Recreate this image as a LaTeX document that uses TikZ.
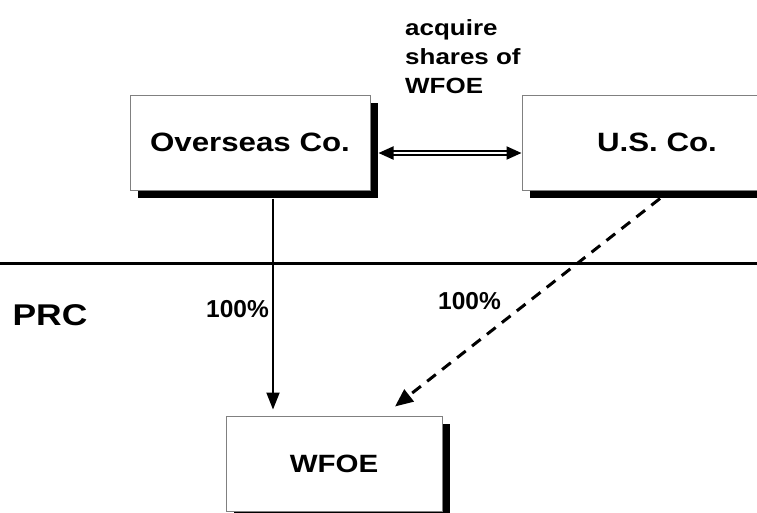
\documentclass[tikz,border=0pt]{standalone}
\usepackage{fontspec}
\setmainfont{Liberation Sans}
\newfontfamily\widefont{Liberation Sans}[FakeStretch=1.18]
\usetikzlibrary{arrows.meta,shadows,calc}
\begin{document}
\begin{tikzpicture}[x=1pt,y=-1pt,
  box/.style={draw=black!50, line width=1pt, fill=white,
    drop shadow={shadow xshift=8pt, shadow yshift=-8pt, fill=black, opacity=1},
    minimum height=95pt, inner sep=0pt},
  boxtext/.style={font=\widefont\bfseries\fontsize{26.5}{32}\selectfont},
  lbl/.style={inner sep=0pt},
  solidtip/.style={-{Triangle[length=17pt,width=13pt]}}]
\useasboundingbox (0,0) rectangle (757,512);
\clip (0,0) rectangle (757,512);

% border line between offshore and PRC side
\coordinate (wl) at (0,263);
\coordinate (wr) at (757,263);
\draw[line width=3pt] (wl) -- (wr);

% company boxes
\node[box, boxtext, minimum width=240pt] (ov) at (250,142.5) {Overseas Co.};
\node[box, boxtext, minimum width=270pt] (us) at (657,142.5) {U.S. Co.};
\node[box, font=\widefont\bfseries\fontsize{25}{30}\selectfont, minimum width=216pt] (wf) at (334,463.5) {WFOE};

% share transfer between the two parents
\draw[line width=2pt, double, double distance=2.5pt,
      {Triangle[length=15pt,width=13pt]}-{Triangle[length=15pt,width=13pt]}]
  ($(ov.east)+(8,10.5)$) -- ($(us.west)+(0,10.5)$);
\node[lbl, anchor=base west, align=left,
      font=\widefont\bfseries\fontsize{22}{29}\selectfont] (acq) at (405,93)
  {acquire\\shares of\\WFOE};

% ownership links
\draw[line width=2pt, solidtip] ($(ov.south)+(23,8)$) -- ($(wf.north)+(-61,-6)$);
\draw[line width=3pt, dash pattern=on 11pt off 8pt,
      -{Triangle[length=18pt,width=15pt]}]
  ($(us.south)+(3,8)$) -- ($(wf.north)+(61,-9)$);

% labels
\node[lbl, font=\bfseries\fontsize{24.5}{30}\selectfont] (p1) at (237.5,309) {100\%};
\node[lbl, font=\bfseries\fontsize{24.5}{30}\selectfont] (p2) at (469.5,301) {100\%};
\node[lbl, font=\widefont\bfseries\fontsize{30}{36}\selectfont] (prc) at (50,315) {PRC};
\end{tikzpicture}
\end{document}
